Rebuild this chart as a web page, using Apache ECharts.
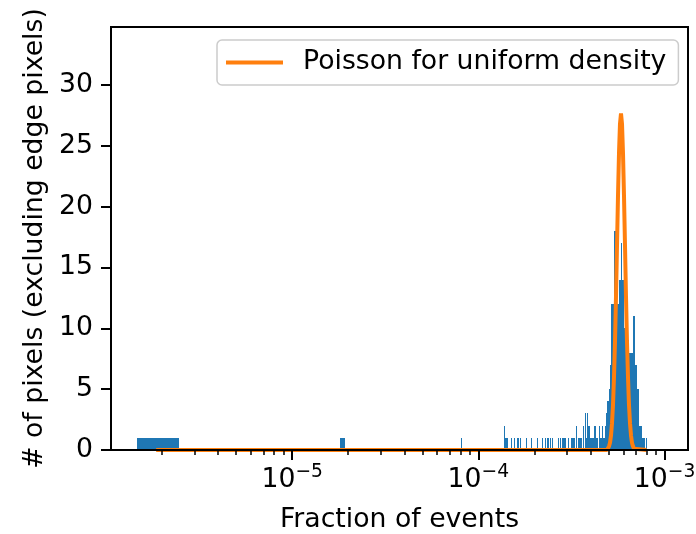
<!DOCTYPE html>
<html><head><meta charset="utf-8">
<script src="https://cdn.jsdelivr.net/npm/echarts@6/dist/echarts.min.js"></script>
<style>html,body{margin:0;padding:0;background:#fff}#c{width:696px;height:534px}</style>
</head><body><div id="c"></div>
<script>
// ---- histogram (visible runs of bins: start, end, count) ----
const barStart = [0.01466e-4, 0.181e-4, 0.8075e-4, 1.369e-4, 1.386e-4, 1.4925e-4, 1.5489e-4, 1.6074e-4, 1.6395e-4, 1.6743e-4,
  1.7966e-4, 1.9110e-4, 2.0582e-4, 2.1975e-4, 2.2804e-4, 2.3289e-4, 2.3754e-4, 2.4258e-4, 2.4773e-4, 2.6877e-4,
  2.75e-4, 2.824e-4, 2.90e-4, 3.0189e-4, 3.1329e-4, 3.3575e-4, 3.4161e-4, 3.6339e-4, 3.7387e-4, 3.7993e-4,
  3.8181e-4, 3.8800e-4, 3.9919e-4, 4.0918e-4, 4.1942e-4, 4.2832e-4, 4.4615e-4, 4.5170e-4, 4.6300e-4, 4.6876e-4,
  4.7871e-4, 4.8646e-4, 4.9251e-4, 5.0111e-4, 5.0734e-4, 5.1747e-4, 5.3702e-4, 5.4639e-4, 5.6913e-4, 5.8121e-4,
  5.8844e-4, 6.0317e-4, 6.2595e-4, 6.4640e-4, 6.7915e-4, 6.9357e-4, 7.1357e-4, 7.3143e-4, 7.5345e-4, 7.9457e-4];
const barEnd = [0.02466e-4, 0.1925e-4, 0.8175e-4, 1.386e-4, 1.438e-4, 1.5111e-4, 1.5681e-4, 1.6274e-4, 1.6537e-4, 1.6889e-4,
  1.8189e-4, 1.9348e-4, 2.0837e-4, 2.2248e-4, 2.3088e-4, 2.3578e-4, 2.4049e-4, 2.4560e-4, 2.5174e-4, 2.72e-4,
  2.7893e-4, 2.87e-4, 2.9452e-4, 3.0564e-4, 3.3163e-4, 3.3993e-4, 3.6160e-4, 3.7065e-4, 3.7993e-4, 3.8181e-4,
  3.8656e-4, 3.9919e-4, 4.0767e-4, 4.1942e-4, 4.2832e-4, 4.3904e-4, 4.5170e-4, 4.6300e-4, 4.6876e-4, 4.7871e-4,
  4.8466e-4, 4.9251e-4, 5.0111e-4, 5.0734e-4, 5.1747e-4, 5.3702e-4, 5.4639e-4, 5.6913e-4, 5.8121e-4, 5.8844e-4,
  6.0317e-4, 6.2595e-4, 6.4640e-4, 6.7915e-4, 6.9357e-4, 7.1357e-4, 7.3143e-4, 7.5345e-4, 7.8482e-4, 8.0445e-4];
const barCount = [1, 1, 1, 2, 1, 1, 1, 1, 1, 1,
  1, 1, 1, 1, 1, 1, 1, 1, 1, 1,
  1, 1, 1, 1, 1, 2, 1, 2, 3, 1,
  3, 2, 1, 1, 2, 1, 2, 1, 2, 1,
  2, 3, 4, 5, 7, 12, 18, 12, 14, 17,
  14, 10, 9, 8, 11, 7, 5, 2, 1, 1];

// ---- Poisson curve ----
const poissonX = [0.0186e-4, 4.907e-4, 4.968e-4, 5.030e-4, 5.092e-4, 5.156e-4, 5.220e-4, 5.285e-4, 5.350e-4, 5.417e-4,
  5.484e-4, 5.553e-4, 5.622e-4, 5.692e-4, 5.762e-4, 5.834e-4, 5.907e-4, 5.980e-4, 6.054e-4, 6.130e-4,
  6.206e-4, 6.283e-4, 6.361e-4, 6.440e-4, 6.521e-4, 6.602e-4, 6.684e-4, 6.767e-4, 6.851e-4, 6.936e-4, 8.0e-4];
const poissonY = [0, 0, 0.1, 0.3, 0.6, 1.2, 2.2, 3.7, 6.0, 8.9,
  12.6, 16.8, 20.9, 24.4, 26.8, 27.65, 26.8, 24.4, 20.9, 16.8,
  12.6, 8.9, 6.0, 3.7, 2.2, 1.2, 0.6, 0.3, 0.1, 0, 0];

// ---- axes ----
const xRange = [1.064e-6, 1.336e-3];
const yRange = [0, 34.76];
const xMajorTicks = [1e-5, 1e-4, 1e-3];
const xMinorTicks = [2e-6, 3e-6, 4e-6, 5e-6, 6e-6, 7e-6, 8e-6, 9e-6,
  2e-5, 3e-5, 4e-5, 5e-5, 6e-5, 7e-5, 8e-5, 9e-5,
  2e-4, 3e-4, 4e-4, 5e-4, 6e-4, 7e-4, 8e-4, 9e-4];
const yTicks = [0, 5, 10, 15, 20, 25, 30];
const seriesName = 'Poisson for uniform density';
const xTitle = 'Fraction of events';
const yTitle = '# of pixels (excluding edge pixels)';

const FONT = 'DejaVu Sans';
const FS = 26.7;
const lg = v => Math.log10(v);
const histData = barStart.map((s, i) => [lg(s), lg(barEnd[i]), barCount[i]]);
const lineData = poissonX.map((x, i) => [lg(x), poissonY[i]]);

const chart = echarts.init(document.getElementById('c'), null, {renderer: 'canvas'});
chart.setOption({
  animation: false,
  backgroundColor: '#fff',
  grid: {left: 111, right: 8, top: 27, bottom: 84, show: true, borderColor: '#000', borderWidth: 2,
    backgroundColor: 'transparent', containLabel: false, outerBoundsMode: 'none'},
  legend: {
    data: [{name: seriesName, icon: 'rect'}],
    left: 217, top: 40,
    itemWidth: 57, itemHeight: 4,
    padding: [9, 12, 9, 9],
    borderColor: '#cccccc', borderWidth: 1.5, borderRadius: 5,
    backgroundColor: 'rgba(255,255,255,0.8)',
    textStyle: {fontFamily: FONT, fontSize: FS, color: '#000', padding: [0, 0, 0, 15]}
  },
  xAxis: [{
    type: 'value', min: lg(xRange[0]), max: lg(xRange[1]), z: 5,
    axisLine: {show: true, lineStyle: {color: '#000', width: 2}},
    axisTick: {show: true, customValues: xMajorTicks.map(lg), length: 10, lineStyle: {color: '#000', width: 2}},
    axisLabel: {
      show: true, customValues: xMajorTicks.map(lg), margin: 13,
      formatter: v => '{b|10}{s|\u2212' + Math.abs(Math.round(v)) + '}',
      rich: {
        b: {fontFamily: FONT, fontSize: FS, color: '#000', lineHeight: 31, verticalAlign: 'bottom'},
        s: {fontFamily: FONT, fontSize: 18.7, color: '#000', lineHeight: 20, verticalAlign: 'top'}
      }
    },
    splitLine: {show: false},
    name: xTitle, nameLocation: 'middle', nameGap: 57,
    nameTextStyle: {fontFamily: FONT, fontSize: FS, color: '#000'}
  }, {
    type: 'value', min: lg(xRange[0]), max: lg(xRange[1]), position: 'bottom', z: 5,
    axisLine: {show: false},
    axisTick: {show: true, customValues: xMinorTicks.map(lg), length: 5, lineStyle: {color: '#000', width: 1.5}},
    axisLabel: {show: false},
    splitLine: {show: false}
  }],
  yAxis: {
    type: 'value', min: yRange[0], max: yRange[1], z: 5,
    axisLine: {show: true, lineStyle: {color: '#000', width: 2}},
    axisTick: {show: true, customValues: yTicks, length: 10, lineStyle: {color: '#000', width: 2}},
    axisLabel: {show: true, customValues: yTicks, margin: 18, fontFamily: FONT, fontSize: FS, color: '#000'},
    splitLine: {show: false},
    name: yTitle, nameLocation: 'middle', nameGap: 58,
    nameTextStyle: {fontFamily: FONT, fontSize: FS, color: '#000'}
  },
  series: [{
    type: 'custom', name: 'hist', z: 2,
    data: histData,
    encode: {x: [0, 1], y: 2},
    renderItem: (params, api) => {
      const p0 = api.coord([api.value(0), api.value(2)]);
      const p1 = api.coord([api.value(1), 0]);
      const x0 = Math.round(p0[0]);
      const x1 = Math.max(Math.round(p1[0]), x0 + 1);
      return {type: 'rect', shape: {x: x0, y: Math.round(p0[1]), width: x1 - x0, height: Math.round(p1[1]) - Math.round(p0[1])},
        style: {fill: '#1f77b4'}};
    }
  }, {
    type: 'line', name: seriesName, z: 3,
    data: lineData, showSymbol: false, symbol: 'none',
    lineStyle: {color: '#ff7f0e', width: 4},
    itemStyle: {color: '#ff7f0e'}
  }]
});
</script></body></html>
